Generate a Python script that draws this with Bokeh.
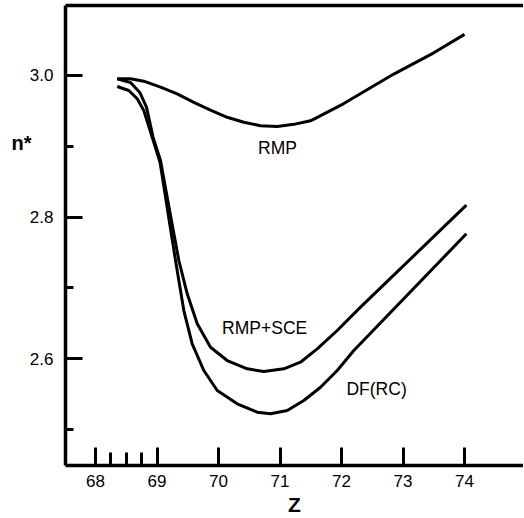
from bokeh.plotting import figure
from bokeh.models import (FixedTicker, LinearAxis, Label, Range1d, PrintfTickFormatter,
                          CustomJSTickFormatter)
from bokeh.embed import file_html
from bokeh.resources import INLINE

# --- data ---
z_rmp = [68.353, 68.569, 68.785, 69.057, 69.328, 69.598, 69.870, 70.141, 70.411, 70.683,
         70.954, 71.224, 71.496, 72.03, 72.85, 73.5, 74.0]
n_rmp = [2.9953, 2.9953, 2.992, 2.9835, 2.974, 2.962, 2.951, 2.941, 2.934, 2.929,
         2.928, 2.931, 2.936, 2.960, 3.002, 3.032, 3.058]

z_sce = [68.353, 68.569, 68.720, 68.830, 68.935, 69.057, 69.225, 69.355, 69.491, 69.654,
         69.870, 70.141, 70.467, 70.737, 71.062, 71.333, 71.605, 71.930, 72.309, 74.03]
n_sce = [2.9953, 2.9900, 2.9760, 2.955, 2.9129, 2.880, 2.800, 2.7388, 2.6918, 2.6495,
         2.6164, 2.5976, 2.5859, 2.5821, 2.5859, 2.5952, 2.6141, 2.6400, 2.6729, 2.817]

z_df = [68.353, 68.541, 68.678, 68.785, 68.922, 69.050, 69.190, 69.301, 69.436, 69.572,
        69.761, 69.979, 70.304, 70.629, 70.846, 71.117, 71.387, 71.659, 71.930, 72.200, 74.03]
n_df = [2.9845, 2.9788, 2.9671, 2.9506, 2.9129, 2.877, 2.800, 2.7388, 2.6682, 2.6212,
        2.5835, 2.5553, 2.5365, 2.5246, 2.5224, 2.5270, 2.5412, 2.5599, 2.5835, 2.6117, 2.7765]

x_major = [68, 69, 70, 71, 72, 73, 74]
x_minor = [68.25, 68.5, 68.75]
y_major = [2.6, 2.8, 3.0]
y_minor = [2.5, 2.7, 2.9]

FONT = "Liberation Sans"

p = figure(width=523, height=518, output_backend="svg", toolbar_location=None,
           x_range=Range1d(67.512, 74.959), y_range=Range1d(2.4494, 3.0988),
           min_border_left=65, min_border_right=0, min_border_top=5, min_border_bottom=53)
p.outline_line_color = None
p.grid.visible = False
p.background_fill_color = "white"

for z, n in [(z_rmp, n_rmp), (z_sce, n_sce), (z_df, n_df)]:
    p.line(z, n, line_color="black", line_width=3, line_join="round")

xa = p.xaxis[0]
xa.ticker = FixedTicker(ticks=x_major, minor_ticks=x_minor)
xa.axis_line_width = 3.5
xa.major_tick_in = 18
xa.major_tick_out = 0
xa.minor_tick_in = 13
xa.minor_tick_out = 0
xa.major_tick_line_width = 3
xa.minor_tick_line_width = 3
xa.major_label_text_font = FONT
xa.major_label_text_font_size = "17px"
xa.major_label_text_color = "black"
xa.major_label_standoff = 9
xa.axis_label = "Z"
xa.axis_label_text_font = FONT
xa.axis_label_text_font_size = "21px"
xa.axis_label_text_font_style = "bold"
xa.axis_label_text_color = "black"
xa.axis_label_standoff = 3

ya = p.yaxis[0]
ya.ticker = FixedTicker(ticks=y_major, minor_ticks=y_minor)
ya.formatter = PrintfTickFormatter(format="%.1f")
ya.axis_line_width = 3.5
ya.major_tick_in = 17
ya.major_tick_out = 0
ya.minor_tick_in = 8
ya.minor_tick_out = 0
ya.major_tick_line_width = 3
ya.minor_tick_line_width = 3
ya.major_label_text_font = FONT
ya.major_label_text_font_size = "17px"
ya.major_label_text_color = "black"
ya.major_label_standoff = 12

# y-axis title "n*" placed as the single label of an extra, invisible left axis
na = LinearAxis(ticker=FixedTicker(ticks=[2.904]),
                formatter=CustomJSTickFormatter(code="return 'n*'"),
                axis_line_color=None, major_tick_line_color=None, minor_tick_line_color=None,
                major_label_text_font=FONT, major_label_text_font_size="20px",
                major_label_text_font_style="bold", major_label_text_color="black",
                major_label_standoff=-11)
p.add_layout(na, "left")

top = LinearAxis(axis_line_width=3.5, major_tick_line_color=None, minor_tick_line_color=None,
                 major_label_text_font_size="0px", major_label_standoff=0)
top.ticker = FixedTicker(ticks=[])
p.add_layout(top, "above")

for txt, x, y in [("RMP", 70.96, 2.897), ("RMP+SCE", 70.75, 2.643), ("DF(RC)", 72.57, 2.558)]:
    p.add_layout(Label(x=x, y=y, text=txt, text_font=FONT, text_font_size="17.5px",
                       text_align="center", text_baseline="middle", text_color="black"))

open("out.html", "w").write(file_html(p, INLINE))
